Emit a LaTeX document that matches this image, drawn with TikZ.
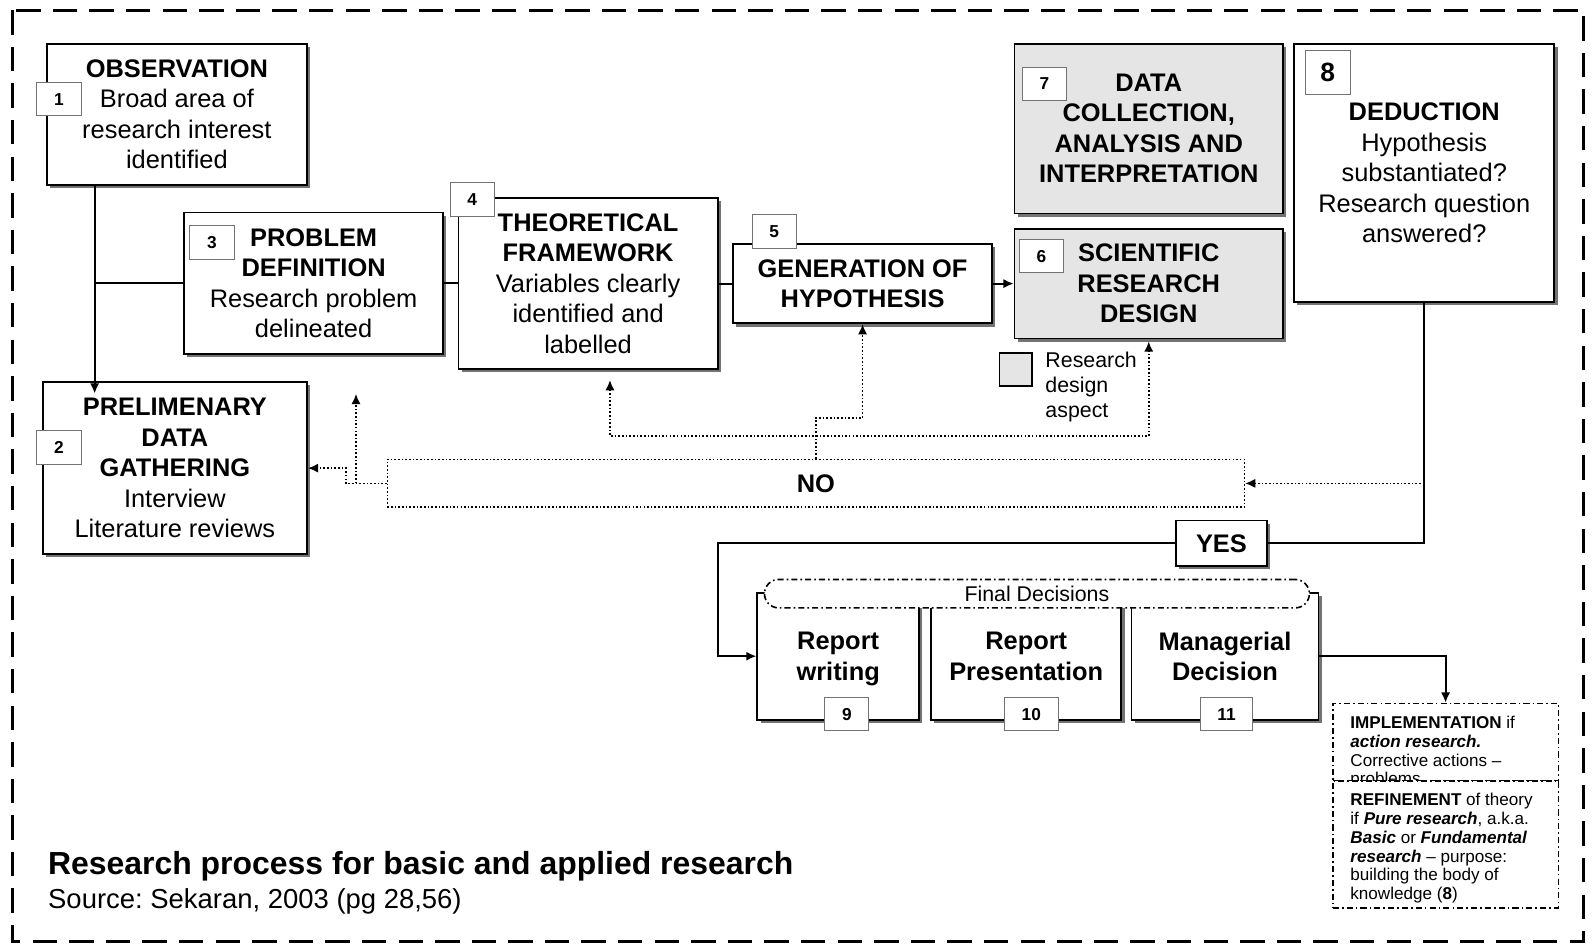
\documentclass[tikz,border=0pt]{standalone}
\usepackage{fontspec}
\setmainfont{Liberation Sans}
\usepackage{tikz}
\usetikzlibrary{shapes,arrows,arrows.meta,shadows,calc}
\frenchspacing

\newcommand{\bxfont}{\fontsize{12.5}{15}\selectfont}
\newcommand{\smfont}{\fontsize{8.4}{9.25}\selectfont}
\newcommand{\lgfont}{\fontsize{10.5}{12.5}\selectfont}

\begin{document}
\begin{tikzpicture}[x=0.5pt, y=-0.5pt, >={Latex[length=5pt,width=4.5pt]},
        box/.style = {draw, line width=0.9pt, fill=white, align=center, inner sep=0pt, font=\bxfont,
            drop shadow={shadow xshift=1.6pt, shadow yshift=-1.6pt, fill=black!55, opacity=1}},
        grey box/.style = {box, fill=black!10},
        badge/.style = {draw=black!55, line width=0.5pt, fill=white, inner xsep=8.5pt, inner ysep=0pt,
            minimum height=16.5pt, font=\bfseries\fontsize{8.5}{8.5}\selectfont},
        conn/.style = {line width=0.9pt},
        dots/.style = {line width=0.8pt, densely dotted},
        dashdots/.style = {line width=0.8pt, dash pattern=on 3pt off 1.5pt on 0.8pt off 1.5pt}]

        \useasboundingbox (0,0) rectangle (1568,929);

        \draw[line width=1.5pt, dash pattern=on 12pt off 6pt] (12,10) rectangle (1558,926);

        \node[box, minimum width=128pt, minimum height=69.5pt] (obs) at (174,112.5)
            {\textbf{OBSERVATION}\\Broad area of\\research interest\\identified};
        \node[box, minimum width=130pt, minimum height=84.5pt] (prelim) at (172,460.5)
            {\textbf{PRELIMENARY}\\\textbf{DATA}\\\textbf{GATHERING}\\Interview\\Literature reviews};
        \node[box, minimum width=127.5pt, minimum height=69.5pt] (prob) at (308.5,278.5)
            {\textbf{PROBLEM}\\\textbf{DEFINITION}\\Research problem\\delineated};
        \node[box, minimum width=127.5pt, minimum height=84pt] (theo) at (578.5,279)
            {\textbf{THEORETICAL}\\\textbf{FRAMEWORK}\\Variables clearly\\identified and\\labelled};
        \node[box, minimum width=127.5pt, minimum height=39pt] (hyp) at (848.5,279)
            {\textbf{GENERATION OF}\\\textbf{HYPOTHESIS}};
        \node[grey box, minimum width=132pt, minimum height=54pt] (design) at (1130,279)
            {\textbf{SCIENTIFIC}\\\textbf{RESEARCH}\\\textbf{DESIGN}};
        \node[grey box, minimum width=132pt, minimum height=83.5pt] (collect) at (1130,126.5)
            {\textbf{DATA}\\\textbf{COLLECTION,}\\\textbf{ANALYSIS AND}\\\textbf{INTERPRETATION}};
        \node[box, minimum width=128pt, minimum height=127pt] (deduct) at (1401,170)
            {\textbf{DEDUCTION}\\Hypothesis\\substantiated?\\Research question\\answered?};

        \node[box, minimum width=79.5pt, minimum height=62.5pt, text depth=0pt] (write) at (824.5,645.5)
            {\textbf{Report}\\\textbf{writing}};
        \node[box, minimum width=93.5pt, minimum height=62.5pt] (present) at (1009.5,645.5)
            {\textbf{Report}\\\textbf{Presentation}};
        \node[box, minimum width=92pt, minimum height=62.5pt] (decide) at (1205,645.5)
            {\textbf{Managerial}\\\textbf{Decision}};
        \node[draw, dashdots, fill=white, rounded corners=7pt, minimum width=268pt, minimum height=14pt,
            inner sep=0pt, font=\lgfont] (final) at (1020,584) {Final Decisions};

        \node[box, minimum width=44.5pt, minimum height=22.5pt] (yes) at (1201.5,534.5) {\textbf{YES}};
        \node[draw, dots, fill=white, minimum width=421.5pt, minimum height=23.5pt, inner sep=0pt,
            font=\bxfont] (no) at (802.5,475.5) {\textbf{NO}};

        \node[draw, dashdots, fill=white, minimum width=111pt, minimum height=38pt] (impl) at (1422,730) {};
        \node[anchor=north west, inner sep=0pt, font=\smfont, align=left] (impltxt) at (1328,704)
            {\textbf{IMPLEMENTATION} if\\\textbf{\textit{action research.}}\\Corrective actions –\\problems};
        \node[draw, dashdots, fill=white, minimum width=111pt, minimum height=62.5pt] (refine) at (1422,830.5) {};
        \node[anchor=north west, inner sep=0pt, font=\smfont, align=left] (refinetxt) at (1328,780)
            {\textbf{REFINEMENT} of theory\\if \textbf{\textit{Pure research}}, a.k.a.\\\textbf{\textit{Basic}} or \textbf{\textit{Fundamental}}\\\textbf{\textit{research}} – purpose:\\building the body of\\knowledge (\textbf{8})};

        \node[draw, line width=0.8pt, fill=black!10, minimum width=16pt, minimum height=16.5pt, inner sep=0pt] (legend) at (999,363.5) {};
        \node[anchor=north west, inner sep=0pt, font=\lgfont, align=left] (legendtxt) at (1028,345.5)
            {Research\\design\\aspect};

        \node[anchor=base west, inner sep=0pt, font=\bfseries\fontsize{15.7}{18}\selectfont] (title) at (47,860)
            {Research process for basic and applied research};
        \node[anchor=base west, inner sep=0pt, font=\fontsize{13.5}{16}\selectfont] (source) at (47,893.5)
            {Source: Sekaran, 2003 (pg 28,56)};

        \foreach \n/\x/\y in {1/58/97.5, 2/58/440, 3/208.5/238.5, 4/464.5/196.5, 5/761.5/227.5,
            6/1024.5/252, 7/1027.5/82.5, 9/833/702.5, 10/1014.5/702.5, 11/1206.5/702.5}
        \node[badge] (badge\n) at (\x,\y) {\n};
        \node[badge, minimum width=22pt, minimum height=21.5pt, inner xsep=0pt,
            font=\bfseries\fontsize{13}{13}\selectfont] (badge8) at (1306,71.5) {8};

        \coordinate (trunk) at ($(obs.south west)+(48,0)$);
        \draw[conn, ->] (trunk) -- ($(trunk |- prelim.north)+(0,12)$);
        \draw[conn] (trunk |- prob.west) -- (prob.west);
        \draw[conn] (prob.east) -- (theo.west |- prob.east);
        \draw[conn] (theo.east) -- (hyp.west);
        \draw[conn, ->] (hyp.east) -- (design.west);

        \draw[conn] (deduct.south) |- (yes.east);
        \draw[conn, ->] (yes.west) -| ($(write.west)+(-38,0)$) -- (write.west);
        \draw[conn, ->] (decide.east) -| (impl.north);

        \draw[dots, ->] (deduct.south |- no.east) -- (no.east);
        \draw[dots, ->] (no.west) -- ++(-40,0) |- (prelim.east);
        \coordinate (noup) at ($(no.west)+(-30,-88)$);
        \draw[dots, ->] (noup |- no.west) -- (noup);
        \draw[dots, ->] (no.north) -- ++(0,-40) -| (hyp.south);
        \coordinate (theoin) at ($(theo.south)+(21.5,10)$);
        \draw[dots, <->] (theoin) |- ($(design.south)+(0,95)$) -- ($(design.south)+(0,2)$);

    \end{tikzpicture}
\end{document}
